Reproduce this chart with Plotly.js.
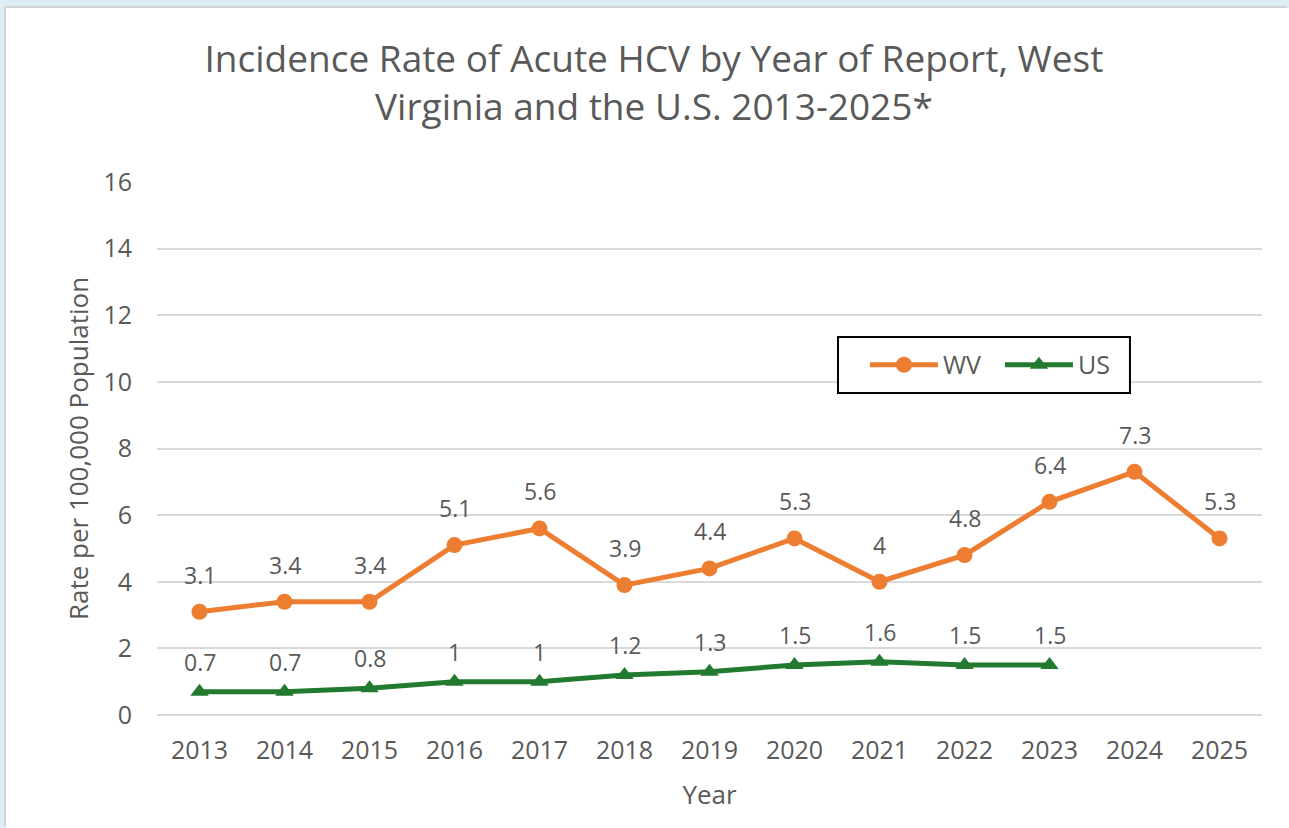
<!DOCTYPE html>
<html>
<head>
<meta charset="utf-8">
<script src="https://cdn.plot.ly/plotly-3.0.1.min.js"></script>
<style>
  html, body { margin:0; padding:0; background:#dcedf3; width:1289px; height:828px; overflow:hidden; }
  #chart { position:absolute; left:6px; top:8px; width:1283px; height:820px; background:#fff; box-shadow:-2px -2px 0 #d3d3d3; }
</style>
</head>
<body>
<div id="chart"></div>
<script>
const years = ["2013","2014","2015","2016","2017","2018","2019","2020","2021","2022","2023","2024","2025"];
const wvRates = [3.1, 3.4, 3.4, 5.1, 5.6, 3.9, 4.4, 5.3, 4, 4.8, 6.4, 7.3, 5.3];
const usYears = ["2013","2014","2015","2016","2017","2018","2019","2020","2021","2022","2023"];
const usRates = [0.7, 0.7, 0.8, 1, 1, 1.2, 1.3, 1.5, 1.6, 1.5, 1.5];
const yTicks = [0, 2, 4, 6, 8, 10, 12, 14, 16];

const FONT = '"Open Sans", sans-serif';
const GREY = '#595959';
const ORANGE = '#ED7D31';
const GREEN = '#217A2F';

const traces = [
  {
    x: years, y: wvRates, name: 'WV', type: 'scatter', mode: 'lines+markers',
    line: {color: ORANGE, width: 5},
    marker: {symbol: 'circle', size: 16, color: ORANGE},
    cliponaxis: false
  },
  {
    x: usYears, y: usRates, name: 'US', type: 'scatter', mode: 'lines+markers',
    line: {color: GREEN, width: 5},
    marker: {symbol: 'triangle-up', size: 16, color: GREEN},
    cliponaxis: false
  }
];

// data labels: on a category axis annotations take the category index
function dataLabels(xs, ys, shift) {
  return xs.map((x, i) => ({
    x: years.indexOf(x), y: ys[i], xref: 'x', yref: 'y', text: String(ys[i]),
    showarrow: false, yshift: shift, xanchor: 'center', yanchor: 'middle',
    font: {family: FONT, size: 23, color: GREY}
  }));
}

const layout = {
  width: 1283, height: 820,
  paper_bgcolor: '#ffffff', plot_bgcolor: '#ffffff',
  margin: {l: 151, r: 27, t: 174, b: 113},
  font: {family: FONT, color: GREY},
  title: {
    text: 'Incidence Rate of Acute HCV by Year of Report, West<br>Virginia and the U.S. 2013-2025*',
    font: {family: FONT, size: 37, color: GREY},
    x: 0.505, xanchor: 'center', y: 0.922, yanchor: 'top', yref: 'container'
  },
  xaxis: {
    type: 'category', range: [-0.5, 12.5],
    showgrid: false, zeroline: false, showline: false,
    ticks: 'outside', ticklen: 13, tickcolor: 'rgba(0,0,0,0)',
    tickfont: {family: FONT, size: 25, color: GREY},
    title: {text: 'Year', font: {family: FONT, size: 26, color: GREY}, standoff: 20}
  },
  yaxis: {
    range: [0, 16], tickvals: yTicks, ticktext: yTicks.map(String),
    showgrid: true, gridcolor: '#d9d9d9', gridwidth: 2,
    zeroline: true, zerolinecolor: '#d9d9d9', zerolinewidth: 2, showline: false,
    ticks: 'outside', ticklen: 19, tickcolor: 'rgba(0,0,0,0)',
    tickfont: {family: FONT, size: 25, color: GREY},
    title: {text: 'Rate per 100,000 Population', font: {family: FONT, size: 26, color: GREY}, standoff: 7}
  },
  annotations: dataLabels(years, wvRates, 37).concat(dataLabels(usYears, usRates, 30)),
  shapes: [{
    type: 'rect', xref: 'paper', yref: 'paper', layer: 'above',
    x0: 0.6163, x1: 0.8805, y0: 0.6041, y1: 0.7092,
    line: {color: '#000000', width: 2}, fillcolor: '#ffffff'
  }],
  showlegend: true,
  legend: {
    orientation: 'h', x: 0.6407, y: 0.6567, xanchor: 'left', yanchor: 'middle',
    borderwidth: 0, bgcolor: 'rgba(255,255,255,0)',
    font: {family: FONT, size: 25, color: GREY},
    itemwidth: 68, entrywidth: 52
  }
};

Plotly.newPlot('chart', traces, layout, {displayModeBar: false, staticPlot: true});
</script>
</body>
</html>
